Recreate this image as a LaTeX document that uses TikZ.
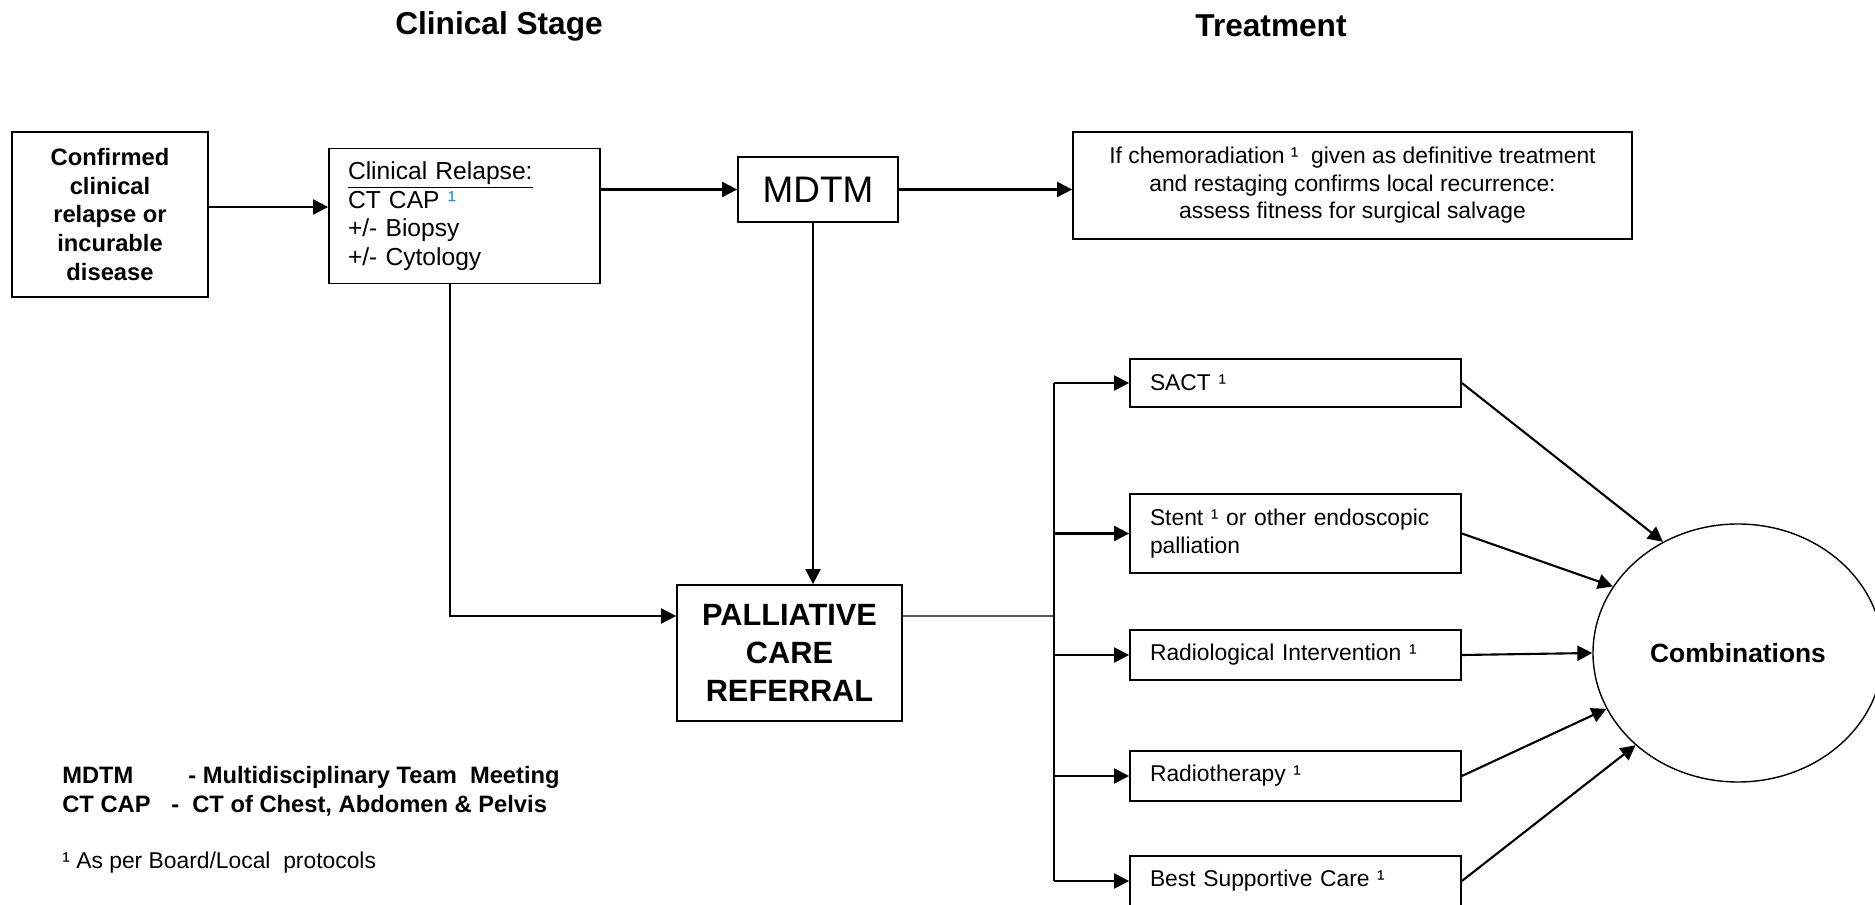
\documentclass[tikz,border=0pt]{standalone}
\usepackage{fontspec}
\setmainfont{Liberation Sans}
\usetikzlibrary{arrows.meta,positioning,shapes.geometric}
\definecolor{supblue}{RGB}{30,144,255}
\tikzset{
  base/.style={font=\fontsize{13}{15.6}\selectfont, inner sep=0pt, text=black},
  box/.style={base, rectangle, draw=black, line width=1pt, align=center},
  boldbox/.style={box, font=\fontsize{13.5}{16.3}\selectfont\bfseries},
  listbox/.style={box, align=left, font=\fontsize{14}{16.3}\selectfont},
  opt/.style={box, align=left, inner xsep=4mm, text width=58.2mm, minimum width=66.2mm},
  heading/.style={base, font=\fontsize{18}{21}\selectfont\bfseries},
  legend/.style={base, align=left, font=\fontsize{13.5}{16.5}\selectfont\bfseries},
  arr/.style={-{Triangle[length=8.5pt,width=8.5pt]}, line width=1.2pt, draw=black},
  link/.style={line width=0.8pt, draw=black},
}
\begin{document}
\begin{tikzpicture}[x=0.2mm, y=-0.2mm]
  \useasboundingbox (0,0) rectangle (1875,905);
  % headings
  \node[heading] (hstage) at (499,26) {Clinical Stage};
  \node[heading] (htreat) at (1271,26) {Treatment};
  % clinical stage
  \node[boldbox, minimum width=39.2mm, minimum height=33mm] (confirm) at (110,214.5) {Confirmed\\clinical\\relapse or\\incurable\\disease};
  \node[listbox, inner xsep=3.8mm, text width=46.6mm, minimum height=27mm] (relapse) at (464.5,216) {\underline{Clinical Relapse:}\\CT CAP \textcolor{supblue}{¹}\\+/- Biopsy\\+/- Cytology};
  \node[box, font=\fontsize{21}{24}\selectfont, minimum width=32mm, minimum height=13mm] (mdtm) at (818,189.5) {MDTM};
  \node[box, minimum width=111.8mm, minimum height=21.4mm] (salvage) at (1352.5,185.5) {If chemoradiation ¹\ \ given as definitive treatment\\and restaging confirms local recurrence:\\assess fitness for surgical salvage};
  \node[box, font=\fontsize{17.5}{21.8}\selectfont\bfseries, minimum width=45mm, minimum height=27.2mm] (pall) at (789.5,653) {PALLIATIVE\\CARE\\REFERRAL};
  % treatment options
  \foreach \n/\y/\h/\t in {sact/383/9.6mm/{SACT ¹},stent/533.5/15.8mm/{Stent ¹ or other endoscopic\\palliation},radiol/655/10mm/{Radiological Intervention ¹},radther/776/10mm/{Radiotherapy ¹},bsc/881/10mm/{Best Supportive Care ¹}}{
    \node[opt, minimum height=\h] (\n) at (1295.5,\y) {\t};
  }
  \node[base, ellipse, draw=black, line width=0.8pt, minimum width=58mm, minimum height=51.6mm, font=\fontsize{15}{18}\selectfont\bfseries] (combo) at (1738,653) {Combinations};
  % connectors
  \draw[arr] ([yshift=1.5mm]confirm.east) -- ([yshift=1.5mm]confirm.east -| relapse.west);
  \draw[arr] (relapse.east |- mdtm.west) -- (mdtm.west);
  \draw[arr] (mdtm.east) -- (mdtm.east -| salvage.west);
  \draw[arr] ([xshift=-1mm]mdtm.south) -- ([xshift=-1mm]mdtm.south |- pall.north);
  \draw[arr] ([xshift=-2.9mm]relapse.south) |- ([yshift=7.4mm]pall.west);
  \coordinate (fork) at (1054,616);
  \draw[link] ([yshift=7.4mm]pall.east) -- (fork);
  \draw[arr, -] (fork |- sact.west) -- (fork |- bsc.west);
  \foreach \n in {sact,stent,radiol,radther,bsc}
    \draw[arr] (fork |- \n.west) -- (\n.west);
  \foreach \n/\a in {sact/124,stent/152,radiol/180,radther/203,bsc/222}
    \draw[arr] (\n.east) -- (combo.\a);
  % legend
  \node[legend, anchor=west] (abbrev) at (62,791.5) {\makebox[71.7pt][l]{MDTM}- Multidisciplinary Team\ \ Meeting\\\makebox[62pt][l]{CT CAP}-\ \ CT of Chest, Abdomen \& Pelvis};
  \node[base, anchor=west] (protocol) at (62,863) {¹ As per Board/Local\ \ protocols};
\end{tikzpicture}
\end{document}
